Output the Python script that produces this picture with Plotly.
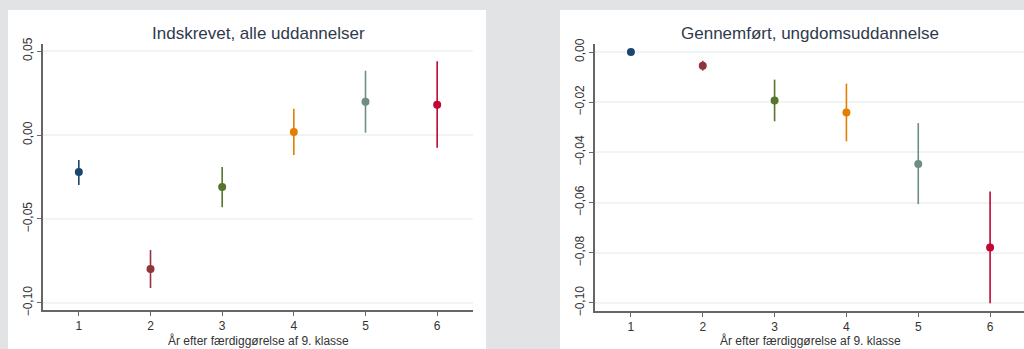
import plotly.graph_objects as go

# Years after finishing 9th grade
years = [1, 2, 3, 4, 5, 6]
year_labels = ["1", "2", "3", "4", "5", "6"]

# Panel 1: enrolled, any education (estimate with 95% CI)
enrolled_est = [-0.022, -0.0798, -0.031, 0.0018, 0.0198, 0.018]
enrolled_hi = [-0.0149, -0.0685, -0.019, 0.0157, 0.0383, 0.0439]
enrolled_lo = [-0.0298, -0.0911, -0.043, -0.0119, 0.0014, -0.0076]

# Panel 2: completed upper secondary education
completed_est = [0.0, -0.0055, -0.0193, -0.0241, -0.0446, -0.0779]
completed_hi = [0.0003, -0.0035, -0.011, -0.0126, -0.0283, -0.0556]
completed_lo = [-0.0003, -0.0074, -0.0276, -0.0356, -0.0606, -0.1001]

titles = ["Indskrevet, alle uddannelser", "Gennemført, ungdomsuddannelse"]
x_title = "År efter færdiggørelse af 9. klasse"

colors = ["#1a476f", "#90353b", "#55752f", "#e37e00", "#6e8e84", "#c10534"]

W, H = 1024, 349
FONT = "Liberation Sans, Arial, sans-serif"
AXIS_COL = "#666666"
GRID_COL = "#eff5f5"
TEXT_COL = "#333333"

fig = go.Figure()


def add_panel(est, lo, hi, xa, ya):
    for i, yr in enumerate(years):
        fig.add_trace(go.Scatter(
            x=[yr, yr], y=[lo[i], hi[i]], mode="lines",
            line=dict(color=colors[i], width=1.6),
            xaxis=xa, yaxis=ya, showlegend=False, hoverinfo="skip"))
        fig.add_trace(go.Scatter(
            x=[yr], y=[est[i]], mode="markers",
            marker=dict(color=colors[i], size=8),
            xaxis=xa, yaxis=ya, showlegend=False))


add_panel(enrolled_est, enrolled_lo, enrolled_hi, "x", "y")
add_panel(completed_est, completed_lo, completed_hi, "x2", "y2")

xcommon = dict(
    tickmode="array", tickvals=years, ticktext=year_labels, automargin=False,
    showgrid=False, zeroline=False, showline=True, linecolor=AXIS_COL, linewidth=1.5,
    ticks="outside", ticklen=4, tickcolor=AXIS_COL, tickwidth=1,
    tickfont=dict(family=FONT, size=12, color=TEXT_COL),
)
ycommon = dict(
    showgrid=True, gridcolor=GRID_COL, gridwidth=1.5, zeroline=False, automargin=False,
    showline=True, linecolor=AXIS_COL, linewidth=1.5,
    ticks="outside", ticklen=4, tickcolor=AXIS_COL, tickwidth=1,
    tickangle=-90, tickformat=".2f",
    tickfont=dict(family=FONT, size=12, color=TEXT_COL),
)


def label(text, x, y, size, color):
    return dict(text=text, xref="paper", yref="paper", x=x, y=y,
                showarrow=False, xanchor="center", yanchor="middle",
                font=dict(family=FONT, size=size, color=color))


fig.update_layout(
    width=W, height=H,
    margin=dict(l=0, r=0, t=0, b=0, autoexpand=False),
    paper_bgcolor="#e2e3e5", plot_bgcolor="white",
    separators=",.",
    xaxis=dict(domain=[43 / W, 473 / W], range=[0.5, 6.5], anchor="y", **xcommon),
    yaxis=dict(domain=[39 / H, 305 / H], range=[-0.1042, 0.0542], anchor="x",
               tickvals=[-0.10, -0.05, 0.0, 0.05], **ycommon),
    xaxis2=dict(domain=[595 / W, 1.0], range=[0.5, 6.472], anchor="y2", **xcommon),
    yaxis2=dict(domain=[38 / H, 305 / H], range=[-0.1032, 0.0032], anchor="x2",
                tickvals=[-0.10, -0.08, -0.06, -0.04, -0.02, 0.0], **ycommon),
    shapes=[
        dict(type="rect", xref="paper", yref="paper", layer="below",
             x0=8 / W, x1=486 / W, y0=0, y1=1 - 10 / H,
             fillcolor="white", line=dict(width=0)),
        dict(type="rect", xref="paper", yref="paper", layer="below",
             x0=560 / W, x1=1.0, y0=0, y1=1 - 10 / H,
             fillcolor="white", line=dict(width=0)),
    ],
    annotations=[
        label(titles[0], 258 / W, 1 - 33 / H, 17, "#2f3a4c"),
        label(titles[1], 810 / W, 1 - 33 / H, 17, "#2f3a4c"),
        label(x_title, 258 / W, 1 - 340 / H, 12, TEXT_COL),
        label(x_title, 810 / W, 1 - 340 / H, 12, TEXT_COL),
    ],
)

fig.write_html("out.html")
